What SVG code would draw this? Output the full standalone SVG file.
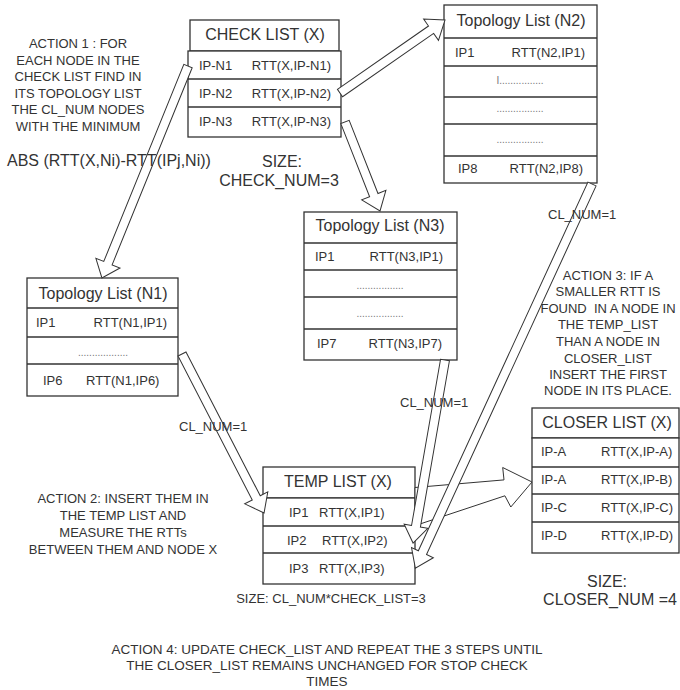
<svg xmlns="http://www.w3.org/2000/svg" width="680" height="690" viewBox="0 0 680 690">
<style>
text{font-family:"Liberation Sans",Arial,sans-serif;fill:#333}
.h{font-size:16px;text-anchor:middle}
.r{font-size:13px}
.e{text-anchor:end}
.m{text-anchor:middle}
.d{font-size:10px;fill:#777;text-anchor:middle}
.n{font-size:13px;text-anchor:middle}
.big{font-size:16px}
.a4{font-size:13.5px;text-anchor:middle}
.box{fill:#fff;stroke:#333;stroke-width:1.3}
.ln{stroke:#333;stroke-width:1.3}
.arr{fill:#fff;stroke:#333;stroke-width:1;stroke-linejoin:miter}
</style>
<rect width="680" height="690" fill="#fff"/>

<g id="check-list">
<rect class="box" x="190" y="20" width="149" height="31"/>
<rect class="box" x="188" y="51" width="153" height="86"/>
<line class="ln" x1="188" y1="79" x2="341" y2="79"/>
<line class="ln" x1="188" y1="107" x2="341" y2="107"/>
<text class="h" x="265" y="40">CHECK LIST (X)</text>
<text class="r" x="199" y="70">IP-N1</text><text class="r e" x="331" y="70">RTT(X,IP-N1)</text>
<text class="r" x="199" y="98">IP-N2</text><text class="r e" x="331" y="98">RTT(X,IP-N2)</text>
<text class="r" x="199" y="126">IP-N3</text><text class="r e" x="331" y="126">RTT(X,IP-N3)</text>
<text class="big m" x="282" y="167">SIZE:</text>
<text class="big m" x="279" y="186">CHECK_NUM=3</text>
</g>

<g id="topology-n2">
<rect class="box" x="444" y="5" width="153" height="178"/>
<line class="ln" x1="444" y1="38" x2="597" y2="38"/>
<line class="ln" x1="444" y1="66" x2="597" y2="66"/>
<line class="ln" x1="444" y1="97" x2="597" y2="97"/>
<line class="ln" x1="444" y1="124" x2="597" y2="124"/>
<line class="ln" x1="444" y1="156" x2="597" y2="156"/>
<text class="h" x="521" y="26">Topology List (N2)</text>
<text class="r" x="455" y="57">IP1</text><text class="r e" x="585" y="57">RTT(N2,IP1)</text>
<text class="d" x="520" y="84">I................</text>
<text class="d" x="520" y="112">.................</text>
<text class="d" x="520" y="143">.................</text>
<text class="r" x="458" y="173">IP8</text><text class="r e" x="583" y="173">RTT(N2,IP8)</text>
</g>

<g id="topology-n3">
<rect class="box" x="304" y="212" width="153" height="148"/>
<line class="ln" x1="304" y1="243" x2="457" y2="243"/>
<line class="ln" x1="304" y1="270" x2="457" y2="270"/>
<line class="ln" x1="304" y1="297" x2="457" y2="297"/>
<line class="ln" x1="304" y1="329" x2="457" y2="329"/>
<text class="h" x="380" y="231">Topology List (N3)</text>
<text class="r" x="315" y="261">IP1</text><text class="r e" x="443" y="261">RTT(N3,IP1)</text>
<text class="d" x="380" y="289">.................</text>
<text class="d" x="380" y="317">.................</text>
<text class="r" x="317" y="348">IP7</text><text class="r e" x="442" y="348">RTT(N3,IP7)</text>
</g>

<g id="topology-n1">
<rect class="box" x="27" y="278" width="151" height="118"/>
<line class="ln" x1="27" y1="308" x2="178" y2="308"/>
<line class="ln" x1="27" y1="337" x2="178" y2="337"/>
<line class="ln" x1="27" y1="364" x2="178" y2="364"/>
<text class="h" x="103" y="299">Topology List (N1)</text>
<text class="r" x="36" y="327">IP1</text><text class="r e" x="167" y="327">RTT(N1,IP1)</text>
<text class="d" x="103" y="356">..................</text>
<text class="r" x="43" y="385">IP6</text><text class="r" x="86" y="385">RTT(N1,IP6)</text>
</g>

<g id="temp-list">
<rect class="box" x="263" y="467" width="152" height="31"/>
<rect class="box" x="263" y="498" width="152" height="86"/>
<line class="ln" x1="263" y1="526" x2="415" y2="526"/>
<line class="ln" x1="263" y1="553" x2="415" y2="553"/>
<text class="h" x="338" y="487">TEMP LIST (X)</text>
<text class="r" x="289" y="517">IP1</text><text class="r" x="319" y="517">RTT(X,IP1)</text>
<text class="r" x="287" y="545">IP2</text><text class="r" x="322" y="545">RTT(X,IP2)</text>
<text class="r" x="289" y="573">IP3</text><text class="r" x="319" y="573">RTT(X,IP3)</text>
<text class="n" x="331" y="603">SIZE: CL_NUM*CHECK_LIST=3</text>
</g>

<g id="closer-list">
<rect class="box" x="532" y="408" width="147" height="30"/>
<rect class="box" x="532" y="438" width="147" height="115"/>
<line class="ln" x1="532" y1="467" x2="679" y2="467"/>
<line class="ln" x1="532" y1="494" x2="679" y2="494"/>
<line class="ln" x1="532" y1="522" x2="679" y2="522"/>
<text class="h" x="607" y="428">CLOSER LIST (X)</text>
<text class="r" x="541" y="456">IP-A</text><text class="r" x="601" y="456">RTT(X,IP-A)</text>
<text class="r" x="541" y="484">IP-A</text><text class="r" x="601" y="484">RTT(X,IP-B)</text>
<text class="r" x="541" y="512">IP-C</text><text class="r" x="601" y="512">RTT(X,IP-C)</text>
<text class="r" x="541" y="540">IP-D</text><text class="r" x="601" y="540">RTT(X,IP-D)</text>
<text class="big m" x="607" y="587">SIZE:</text>
<text class="big m" x="610" y="605">CLOSER_NUM =4</text>
</g>

<g id="connectors">
<polygon class="arr" points="415,487.5 504,479.9 502.7,467.5 532,482 510.8,507 504.9,495.8 416,525.3 415,525"/>
<polygon class="arr" transform="translate(188,66) rotate(112.1)" points="0,-4.5 212.8,-4.5 212.8,-13 228.8,0 212.8,13 212.8,4.5 0,4.5"/>
<polygon class="arr" transform="translate(340,93) rotate(-34.8)" points="0,-4.5 110.9,-4.5 110.9,-13 127.9,0 110.9,13 110.9,4.5 0,4.5"/>
<polygon class="arr" transform="translate(345,122) rotate(68.5)" points="0,-4.5 78.6,-4.5 78.6,-13 95.6,0 78.6,13 78.6,4.5 0,4.5"/>
<polygon class="arr" transform="translate(182,354) rotate(62.7)" points="0,-4.5 161.9,-4.5 161.9,-13 178.9,0 161.9,13 161.9,4.5 0,4.5"/>
<polygon class="arr" transform="translate(445,360) rotate(99.9)" points="0,-4.5 168.8,-4.5 168.8,-12 185.8,0 168.8,12 168.8,4.5 0,4.5"/>
<polygon class="arr" transform="translate(592,184) rotate(114.7)" points="0,-4.5 405.8,-4.5 405.8,-12 422.8,0 405.8,12 405.8,4.5 0,4.5"/>
</g>

<g id="labels">
<text class="n" x="78" y="48">ACTION 1 : FOR</text>
<text class="n" x="78" y="65">EACH NODE IN THE</text>
<text class="n" x="78" y="81">CHECK LIST FIND IN</text>
<text class="n" x="78" y="98">ITS TOPOLOGY LIST</text>
<text class="n" x="78" y="114">THE CL_NUM NODES</text>
<text class="n" x="78" y="131">WITH THE MINIMUM</text>
<text class="big" x="7" y="166">ABS (RTT(X,Ni)-RTT(IPj,Ni))</text>
<text class="r" x="548" y="219">CL_NUM=1</text>
<text class="r" x="400" y="407">CL_NUM=1</text>
<text class="r" x="179" y="431">CL_NUM=1</text>
<text class="n" x="608" y="280">ACTION 3: IF A</text>
<text class="n" x="608" y="296">SMALLER RTT IS</text>
<text class="n" x="608" y="313">FOUND&#160; IN A NODE IN</text>
<text class="n" x="608" y="329">THE TEMP_LIST</text>
<text class="n" x="608" y="346">THAN A NODE IN</text>
<text class="n" x="608" y="363">CLOSER_LIST</text>
<text class="n" x="608" y="379">INSERT THE FIRST</text>
<text class="n" x="608" y="395">NODE IN ITS PLACE.</text>
<text class="n" x="123" y="503">ACTION 2: INSERT THEM IN</text>
<text class="n" x="123" y="520">THE TEMP LIST AND</text>
<text class="n" x="123" y="537">MEASURE THE RTTs</text>
<text class="n" x="123" y="554">BETWEEN THEM AND NODE X</text>
<text class="a4" x="327" y="654">ACTION 4: UPDATE CHECK_LIST AND REPEAT THE 3 STEPS UNTIL</text>
<text class="a4" x="327" y="670">THE CLOSER_LIST REMAINS UNCHANGED FOR STOP CHECK</text>
<text class="a4" x="327" y="686">TIMES</text>
</g>
</svg>
